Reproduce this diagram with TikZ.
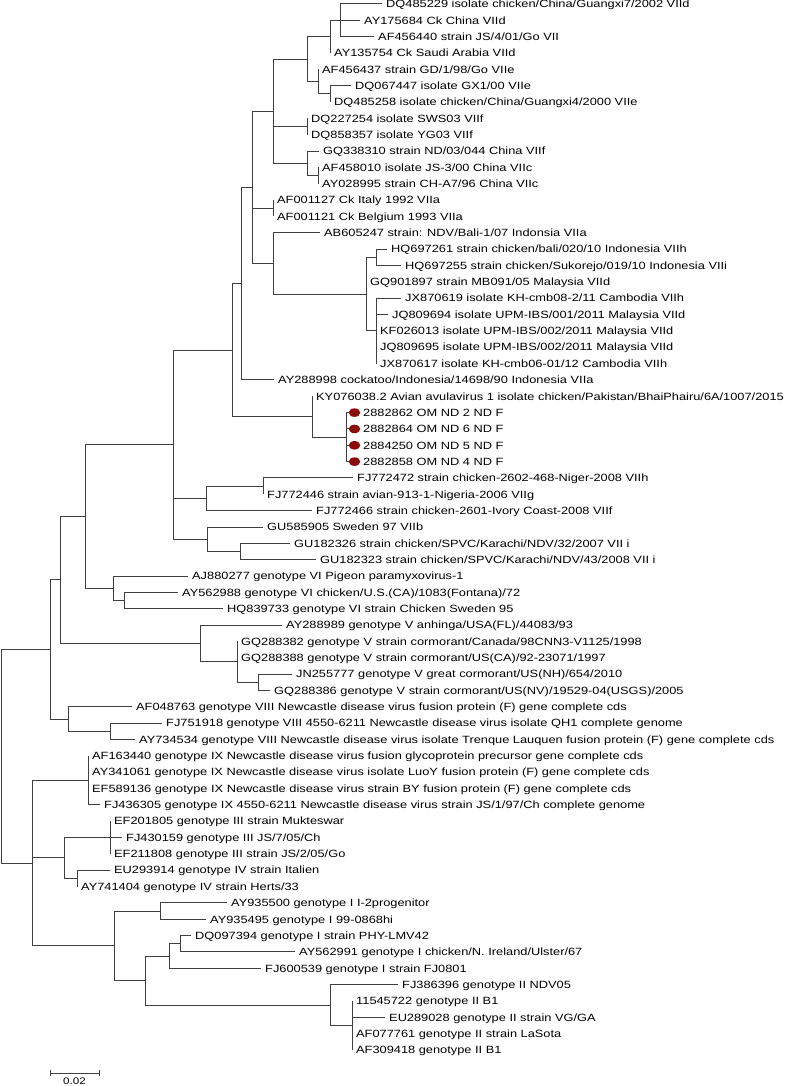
\documentclass[tikz,border=0pt]{standalone}
\usepackage{fontspec}
\setmainfont{Liberation Sans}[FakeStretch=1.22]
\usetikzlibrary{calc,shapes.geometric}
\definecolor{brc}{RGB}{64,64,64}
\definecolor{dotred}{RGB}{140,12,12}
\newcommand\labfont{\fontsize{10.5}{12}\selectfont}
\newcommand\leaf[5][4]{\coordinate (#2) at (#3,{4+(#4-1)*16.344});
  \node[lab] (#2t) at ([xshift=#1pt]#2) {#5};}
\newcommand\treenode[4]{\path let \p1=(#3), \p2=(#4) in coordinate (#1) at (#2pt,{0.5*(\y1+\y2)});}
\begin{document}
\begin{tikzpicture}[x=1pt,y=-1pt,
  lab/.style={anchor=west,inner sep=0pt,text height=7.5pt,text depth=0pt,font=\labfont},
  br/.style={draw=brc,line width=1pt},
  omdot/.style={ellipse,fill=dotred,draw=none,minimum width=11.5pt,minimum height=8.5pt,inner sep=0pt}]
\useasboundingbox (0,0) rectangle (787,1086);
% leaves
\leaf{l1}{382}{1}{DQ485229 isolate chicken/China/Guangxi7/2002 VIId}
\leaf{l2}{360}{2}{AY175684 Ck China VIId}
\leaf{l3}{374}{3}{AF456440 strain JS/4/01/Go VII}
\leaf{l4}{330}{4}{AY135754 Ck Saudi Arabia VIId}
\leaf{l5}{318}{5}{AF456437 strain GD/1/98/Go VIIe}
\leaf{l6}{351}{6}{DQ067447 isolate GX1/00 VIIe}
\leaf{l7}{330}{7}{DQ485258 isolate chicken/China/Guangxi4/2000 VIIe}
\leaf{l8}{307}{8}{DQ227254 isolate SWS03 VIIf}
\leaf{l9}{307}{9}{DQ858357 isolate YG03 VIIf}
\leaf{l10}{319}{10}{GQ338310 strain ND/03/044 China VIIf}
\leaf{l11}{318}{11}{AF458010 isolate JS-3/00 China VIIc}
\leaf{l12}{318}{12}{AY028995 strain CH-A7/96 China VIIc}
\leaf{l13}{273}{13}{AF001127 Ck Italy 1992 VIIa}
\leaf{l14}{273}{14}{AF001121 Ck Belgium 1993 VIIa}
\leaf{l15}{320}{15}{AB605247 strain: NDV/Bali-1/07 Indonsia VIIa}
\leaf{l16}{387}{16}{HQ697261 strain chicken/bali/020/10 Indonesia VIIh}
\leaf{l17}{401}{17}{HQ697255 strain chicken/Sukorejo/019/10 Indonesia VIIi}
\leaf{l18}{366}{18}{GQ901897 strain MB091/05 Malaysia VIId}
\leaf{l19}{401}{19}{JX870619 isolate KH-cmb08-2/11 Cambodia VIIh}
\leaf{l20}{388}{20}{JQ809694 isolate UPM-IBS/001/2011 Malaysia VIId}
\leaf{l21}{376}{21}{KF026013 isolate UPM-IBS/002/2011 Malaysia VIId}
\leaf{l22}{376}{22}{JQ809695 isolate UPM-IBS/002/2011 Malaysia VIId}
\leaf{l23}{376}{23}{JX870617 isolate KH-cmb06-01/12 Cambodia VIIh}
\leaf{l24}{274}{24}{AY288998 cockatoo/Indonesia/14698/90 Indonesia VIIa}
\leaf{l25}{312}{25}{KY076038.2 Avian avulavirus 1 isolate chicken/Pakistan/BhaiPhairu/6A/1007/2015}
\leaf[13]{l26}{350}{26}{2882862 OM ND 2 ND F}
\leaf[13]{l27}{350}{27}{2882864 OM ND 6 ND F}
\leaf[13]{l28}{350}{28}{2884250 OM ND 5 ND F}
\leaf[13]{l29}{350}{29}{2882858 OM ND 4 ND F}
\leaf{l30}{353}{30}{FJ772472 strain chicken-2602-468-Niger-2008 VIIh}
\leaf{l31}{263}{31}{FJ772446 strain avian-913-1-Nigeria-2006 VIIg}
\leaf{l32}{312}{32}{FJ772466 strain chicken-2601-Ivory Coast-2008 VIIf}
\leaf{l33}{263}{33}{GU585905 Sweden 97 VIIb}
\leaf{l34}{290}{34}{GU182326 strain chicken/SPVC/Karachi/NDV/32/2007 VII i}
\leaf{l35}{316}{35}{GU182323 strain chicken/SPVC/Karachi/NDV/43/2008 VII i}
\leaf{l36}{188}{36}{AJ880277 genotype VI Pigeon paramyxovirus-1}
\leaf{l37}{178}{37}{AY562988 genotype VI chicken/U.S.(CA)/1083(Fontana)/72}
\leaf{l38}{223}{38}{HQ839733 genotype VI strain Chicken Sweden 95}
\leaf{l39}{282}{39}{AY288989 genotype V anhinga/USA(FL)/44083/93}
\leaf{l40}{237}{40}{GQ288382 genotype V strain cormorant/Canada/98CNN3-V1125/1998}
\leaf{l41}{237}{41}{GQ288388 genotype V strain cormorant/US(CA)/92-23071/1997}
\leaf{l42}{292}{42}{JN255777 genotype V great cormorant/US(NH)/654/2010}
\leaf{l43}{270}{43}{GQ288386 genotype V strain cormorant/US(NV)/19529-04(USGS)/2005}
\leaf{l44}{132}{44}{AF048763 genotype VIII Newcastle disease virus fusion protein (F) gene complete cds}
\leaf{l45}{162}{45}{FJ751918 genotype VIII 4550-6211 Newcastle disease virus isolate QH1 complete genome}
\leaf{l46}{135}{46}{AY734534 genotype VIII Newcastle disease virus isolate Trenque Lauquen fusion protein (F) gene complete cds}
\leaf{l47}{88}{47}{AF163440 genotype IX Newcastle disease virus fusion glycoprotein precursor gene complete cds}
\leaf{l48}{88}{48}{AY341061 genotype IX Newcastle disease virus isolate LuoY fusion protein (F) gene complete cds}
\leaf{l49}{88}{49}{EF589136 genotype IX Newcastle disease virus strain BY fusion protein (F) gene complete cds}
\leaf{l50}{100}{50}{FJ436305 genotype IX 4550-6211 Newcastle disease virus strain JS/1/97/Ch complete genome}
\leaf{l51}{110}{51}{EF201805 genotype III strain Mukteswar}
\leaf{l52}{122}{52}{FJ430159 genotype III JS/7/05/Ch}
\leaf{l53}{110}{53}{EF211808 genotype III strain JS/2/05/Go}
\leaf{l54}{110}{54}{EU293914 genotype IV strain Italien}
\leaf{l55}{77}{55}{AY741404 genotype IV strain Herts/33}
\leaf{l56}{227}{56}{AY935500 genotype I I-2progenitor}
\leaf{l57}{206}{57}{AY935495 genotype I 99-0868hi}
\leaf{l58}{191}{58}{DQ097394 genotype I strain PHY-LMV42}
\leaf{l59}{295}{59}{AY562991 genotype I chicken/N. Ireland/Ulster/67}
\leaf{l60}{261}{60}{FJ600539 genotype I strain FJ0801}
\leaf{l61}{398}{61}{FJ386396 genotype II NDV05}
\leaf{l62}{352}{62}{11545722 genotype II B1}
\leaf{l63}{385}{63}{EU289028 genotype II strain VG/GA}
\leaf{l64}{352}{64}{AF077761 genotype II strain LaSota}
\leaf{l65}{352}{65}{AF309418 genotype II B1}
% internal nodes
\treenode{n340}{340}{l1}{l3}
\treenode{n330a}{330}{n340}{l4}
\treenode{n330b}{330}{l6}{l7}
\treenode{n318}{318}{l5}{n330b}
\treenode{n307a}{307}{n330a}{n318}
\treenode{n307b}{307}{l8}{l9}
\treenode{n318c}{318}{l11}{l12}
\treenode{n307c}{307}{l10}{n318c}
\treenode{n273a}{273}{n307a}{n307c}
\treenode{n273b}{273}{l13}{l14}
\treenode{n376a}{376}{l16}{l17}
\treenode{n376b}{376}{l19}{l23}
\treenode{n366}{366}{n376a}{n376b}
\treenode{n273c}{273}{l15}{n366}
\treenode{n252}{252}{n273a}{n273c}
\treenode{n241}{241}{n252}{l24}
\treenode{n346}{346}{l26}{l29}
\treenode{n312}{312}{l25}{n346}
\treenode{n232}{232}{n241}{n312}
\treenode{n263}{263}{l30}{l31}
\treenode{n206}{206}{n263}{l32}
\treenode{n240}{240}{l34}{l35}
\treenode{n207}{207}{l33}{n240}
\treenode{n173}{173}{n232}{n207}
\treenode{n124}{124}{l37}{l38}
\treenode{n113}{113}{l36}{n124}
\treenode{n85}{85}{n173}{n113}
\treenode{n258}{258}{l42}{l43}
\treenode{n237}{237}{l40}{n258}
\treenode{n200}{200}{l39}{n237}
\treenode{n60}{60}{n85}{n200}
\treenode{n110}{110}{l45}{l46}
\treenode{n68}{68}{l44}{n110}
\treenode{n50}{50}{n60}{n68}
\treenode{n88}{88}{l47}{l50}
\treenode{n110b}{110}{l51}{l53}
\treenode{n77}{77}{l54}{l55}
\treenode{n64}{64}{n110b}{n77}
\treenode{n160}{160}{l56}{l57}
\treenode{n180}{180}{l58}{l59}
\treenode{n169}{169}{n180}{l60}
\treenode{n352}{352}{l62}{l65}
\treenode{n330c}{330}{l61}{n352}
\treenode{n145}{145}{n169}{n330c}
\treenode{n114}{114}{n160}{n145}
\treenode{n32}{32}{n88}{n114}
\treenode{root}{1.5}{n50}{n32}
% branches
\foreach \p/\c in {n340/l1,n340/l2,n340/l3,n330a/n340,n330a/l4,n330b/l6,n330b/l7,
  n318/l5,n318/n330b,n307a/n330a,n307a/n318,n307b/l8,n307b/l9,n318c/l11,n318c/l12,
  n307c/l10,n307c/n318c,n273a/n307a,n273a/n307b,n273a/n307c,n273b/l13,n273b/l14,
  n376a/l16,n376a/l17,n376b/l19,n376b/l20,n376b/l21,n376b/l22,n376b/l23,
  n366/n376a,n366/l18,n366/n376b,n273c/l15,n273c/n366,n252/n273a,n252/n273b,n252/n273c,
  n241/n252,n241/l24,n346/l26,n346/l27,n346/l28,n346/l29,n312/l25,n312/n346,
  n232/n241,n232/n312,n263/l30,n263/l31,n206/n263,n206/l32,n240/l34,n240/l35,
  n207/l33,n207/n240,n173/n232,n173/n206,n173/n207,n124/l37,n124/l38,n113/l36,n113/n124,
  n85/n173,n85/n113,n258/l42,n258/l43,n237/l40,n237/l41,n237/n258,n200/l39,n200/n237,
  n60/n85,n60/n200,n110/l45,n110/l46,n68/l44,n68/n110,n50/n60,n50/n68,
  n88/l47,n88/l48,n88/l49,n88/l50,n110b/l51,n110b/l52,n110b/l53,n77/l54,n77/l55,
  n64/n110b,n64/n77,n160/l56,n160/l57,n180/l58,n180/l59,n169/n180,n169/l60,
  n352/l62,n352/l63,n352/l64,n352/l65,n330c/l61,n330c/n352,n145/n169,n145/n330c,
  n114/n160,n114/n145,n32/n88,n32/n64,n32/n114,root/n50,root/n32}
  {\draw[br] (\p) |- (\c);}
% red markers
\foreach \k in {26,27,28,29}{\node[omdot] (d\k) at ([xshift=4.5pt]l\k) {};}
% scale bar
\coordinate (sbA) at (50,1073);
\coordinate (sbB) at (99,1073);
\draw[br] (sbA) -- (sbB);
\draw[br] ([yshift=3pt]sbA) -- ([yshift=-3pt]sbA);
\draw[br] ([yshift=3pt]sbB) -- ([yshift=-3pt]sbB);
\node[inner sep=0pt,font=\fontsize{9.5}{11}\selectfont] (sbl) at (74.5,1081) {0.02};
\end{tikzpicture}
\end{document}
